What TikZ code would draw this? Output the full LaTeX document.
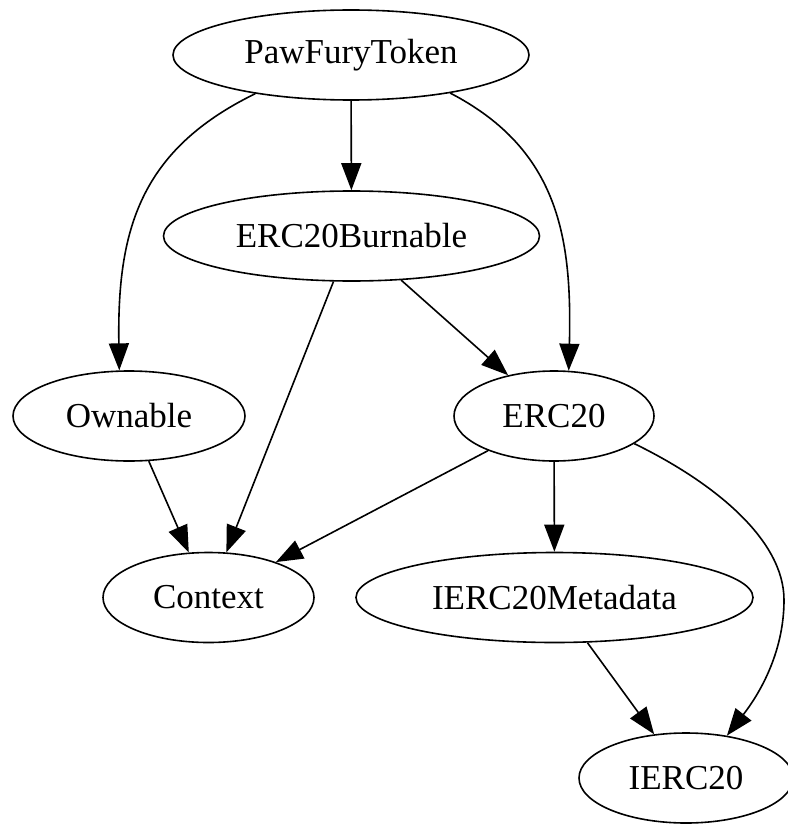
\documentclass[tikz,border=0pt]{standalone}
\usepackage{fontspec}
\setmainfont{Liberation Serif}
\usetikzlibrary{shapes.geometric,arrows.meta}
\tikzset{
  cls/.style={draw, ellipse, line width=1.6pt, inner sep=0pt, minimum height=90pt,
    font=\fontsize{35}{42}\selectfont},
  dep/.style={line width=1.6pt, -{Triangle[length=27pt,width=20pt]}}
}
\begin{document}
\begin{tikzpicture}[x=1pt,y=-1pt]
\useasboundingbox (0,0) rectangle (787,824);
\node[cls, minimum width=356pt] (pft) at (351,55) {PawFuryToken};
\node[cls, minimum width=376pt] (burn) at (351.5,236) {ERC20Burnable};
\node[cls, minimum width=232pt] (own) at (129,416) {Ownable};
\node[cls, minimum width=200pt] (erc) at (554,416) {ERC20};
\node[cls, minimum width=211pt] (ctx) at (208.5,597.5) {Context};
\node[cls, minimum width=397pt] (meta) at (554.5,597.5) {IERC20Metadata};
\node[cls, minimum width=214pt] (ierc) at (686,778) {IERC20};

\draw[dep] (pft) -- (burn);
\draw[dep] (pft.202) .. controls (140,150) and (117,230) .. (own.102);
\draw[dep] (pft.339) .. controls (560,150) and (572,240) .. (erc.72);
\draw[dep] (burn) -- (erc);
\draw[dep] (burn) -- (ctx);
\draw[dep] (own) -- (ctx);
\draw[dep] (erc) -- (ctx);
\draw[dep] (erc) -- (meta);
\draw[dep] (meta) -- (ierc);
\draw[dep] (erc.341) .. controls (715,483) and (784,540) .. (784,600)
   .. controls (784,655) and (757,697) .. (ierc.46);
\end{tikzpicture}
\end{document}
